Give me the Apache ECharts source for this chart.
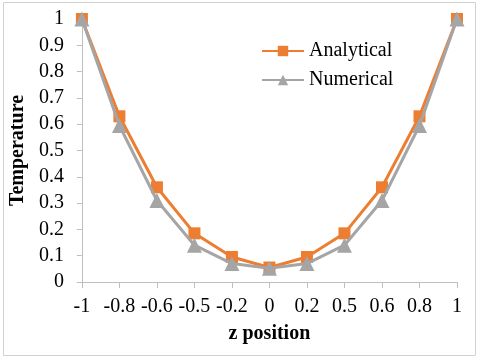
<!DOCTYPE html>
<html>
<head>
<meta charset="utf-8">
<script src="https://cdn.jsdelivr.net/npm/echarts@6/dist/echarts.min.js"></script>
<style>
  html, body { margin: 0; padding: 0; background: #fff; }
  #chart { width: 480px; height: 362px; }
</style>
</head>
<body>
<div id="chart"></div>
<script>
// z positions (category axis, equally spaced as in the original)
var zPositions = ['-1', '-0.8', '-0.6', '-0.5', '-0.2', '0', '0.2', '0.5', '0.6', '0.8', '1'];
var analyticalData = [1, 0.63, 0.36, 0.185, 0.095, 0.055, 0.095, 0.185, 0.36, 0.63, 1];
var numericalData = [1, 0.595, 0.31, 0.14, 0.07, 0.052, 0.07, 0.14, 0.31, 0.595, 1];

var chart = echarts.init(document.getElementById('chart'));
var serif = 'Liberation Serif';

var option = {
  animation: false,
  color: ['#ED7D31', '#A5A5A5'],
  graphic: [{
    type: 'rect',
    shape: { x: 3.5, y: 2.5, width: 472, height: 353 },
    style: { fill: 'none', stroke: '#d0d0d0', lineWidth: 1 }
  }],
  grid: { left: 80, right: 23, top: 19, bottom: 80 },
  legend: {
    orient: 'vertical',
    left: 256,
    top: 36,
    itemWidth: 42,
    itemHeight: 13,
    itemGap: 9,
    textStyle: { fontFamily: serif, fontSize: 20, color: '#000' },
    data: ['Analytical', 'Numerical']
  },
  xAxis: {
    type: 'category',
    data: zPositions,
    boundaryGap: false,
    name: 'z position',
    nameLocation: 'middle',
    nameGap: 42,
    nameTextStyle: { fontFamily: serif, fontSize: 20, fontWeight: 'bold', color: '#000' },
    axisLine: { lineStyle: { color: '#bfbfbf', width: 1 } },
    axisTick: { show: true, alignWithLabel: true, interval: 0, length: 6, lineStyle: { color: '#bfbfbf' } },
    axisLabel: { fontFamily: serif, fontSize: 20, color: '#000', margin: 15, interval: 0, hideOverlap: false },
    splitLine: { show: false }
  },
  yAxis: {
    type: 'value',
    min: 0,
    max: 1,
    interval: 0.1,
    name: 'Temperature',
    nameLocation: 'middle',
    nameGap: 52,
    nameTextStyle: { fontFamily: serif, fontSize: 20, fontWeight: 'bold', color: '#000' },
    axisLine: { show: true, lineStyle: { color: '#bfbfbf', width: 1 } },
    axisTick: { show: true, length: 5, lineStyle: { color: '#bfbfbf' } },
    axisLabel: {
      fontFamily: serif, fontSize: 20, color: '#000', margin: 18,
      formatter: function (v) { return String(Math.round(v * 10) / 10); }
    },
    splitLine: { show: false }
  },
  series: [{
    name: 'Analytical',
    type: 'line',
    data: analyticalData,
    symbol: 'rect',
    symbolSize: 12,
    lineStyle: { width: 3 },
    z: 2
  }, {
    name: 'Numerical',
    type: 'line',
    data: numericalData,
    symbol: 'triangle',
    symbolSize: 15,
    lineStyle: { width: 3 },
    z: 3
  }]
};
chart.setOption(option);
</script>
</body>
</html>
